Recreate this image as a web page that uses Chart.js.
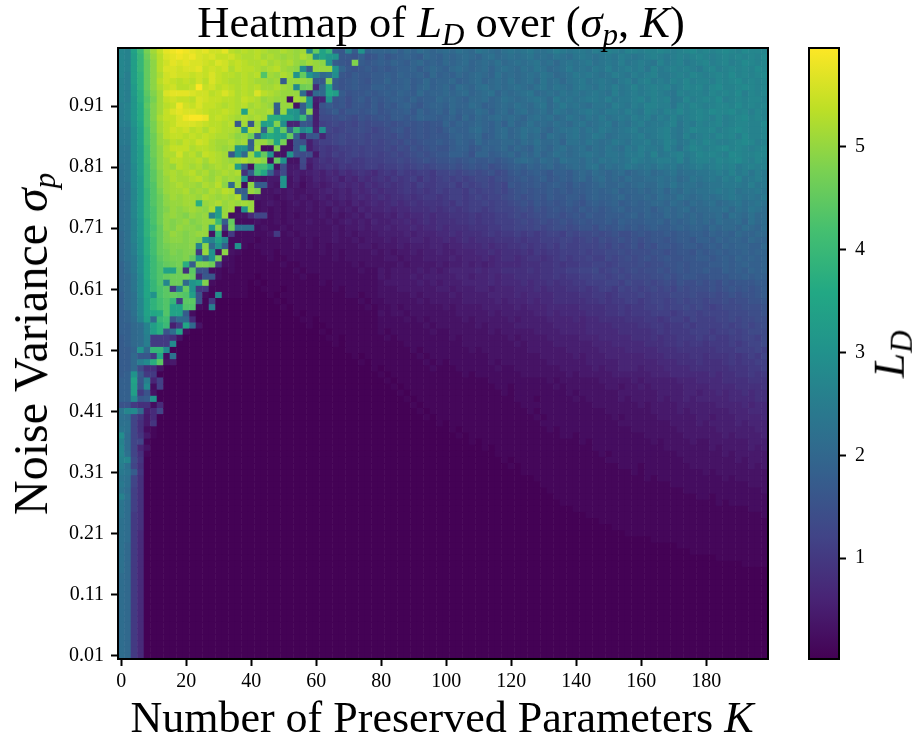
<!DOCTYPE html>
<html>
<head>
<meta charset="utf-8">
<script src="https://cdn.jsdelivr.net/npm/chart.js@4"></script>
<style>
  html, body { margin: 0; padding: 0; background: #fff; }
  #wrap { position: relative; width: 912px; height: 741px; overflow: hidden; font-family: "Liberation Serif", serif; color: #000; }
  canvas { position: absolute; top: 0; }
  .txt { position: absolute; white-space: nowrap; font-size: 44.5px; line-height: 1; }
  .txt i { font-style: italic; }
  .txt sub { font-size: 31px; font-style: italic; line-height: 0; vertical-align: -8px; }
</style>
</head>
<body>
<div id="wrap">
  <canvas id="heat" width="912" height="741" style="left:0"></canvas>
  <canvas id="bar" width="132" height="741" style="left:780px"></canvas>
  <div class="txt" id="titulo" style="left:441px;top:0px;transform:translateX(-50%)">Heatmap of <i>L</i><sub>D</sub> over (<i>σ</i><sub>p</sub>, <i>K</i>)</div>
  <div class="txt" id="labelx" style="left:442px;top:696px;font-size:44px;transform:translateX(-50%)">Number of Preserved Parameters <i>K</i></div>
  <div class="txt" id="labely" style="left:31px;top:344px;font-size:48px;transform:translate(-50%,-50%) rotate(-90deg)">Noise Variance <i>σ</i><sub>p</sub></div>
  <div class="txt" id="labelcb" style="left:889px;top:354px;transform:translate(-50%,-50%) rotate(-90deg)"><i>L</i><sub>D</sub></div>
</div>
<script>
// eixos
const kValues = Array.from({ length: 100 }, (_, i) => i * 2);
const sigmaValues = Array.from({ length: 100 }, (_, i) => (100 - i) / 100); // de cima para baixo
const kTicks = [0, 20, 40, 60, 80, 100, 120, 140, 160, 180];
const sigmaTicks = [0.01, 0.11, 0.21, 0.31, 0.41, 0.51, 0.61, 0.71, 0.81, 0.91];
const barTicks = [1, 2, 3, 4, 5];
const barMin = 0.02;
const barMax = 5.96;

// valores, uma linha por sigma, um caractere por K (indice em niveis * 0.1)
const niveis = "0123456789abcdefghijklmnopqrstuvwxyzABCDEFGHIJKLMNOPQRSTUVWXYZ";
const linhas = [
"rqyELPSVWX WVUVTTVRQR QRQPPQPOPr JyDhgqhuij jjkikjlkjk lkmlknmlkm nmnommnpon oonpoqpoqq pqqrqpqrsq rqrsrqsrrr",
"rqxDKORUVW VWUTUSSTRQ QRPQPOPOQO tyvuggfifg ighijihkji kjklkjlmkl mlmnlmlnml nonmnonpon opqpopqpqr qpqrqrqrqs",
"rqxDJNRTVU VUUTSUTRSR QQRPQPQONP ONuhgfMhgh ihjihjkiji kjkljklkmk lmlmnlmkmn mnomnonpno ponqopqopq rpqrpqsrqr",
"rqxDJNRUUT UUVSTSTQSR RQPQRPONth OOOujgfghg hghiijhjkj iklkjkljlm lkmlnmklmo mnmonpnopo pnqopqpqpo qrpqrqrqsr",
"rpxCJNQTUT TSTSUSRRQR QRHPOQPuJu pkmtgfhggh hihjiijhki jikjklkjmk lklmlnmklm ononmnponp opqoopqprq pqrqsqrqrs",
"qpxCJNRTSR SRTRUSRQQR QPPOPhOOON ggMhfghgfh hjhijhikij jkijkljklk mklmknlmkm nomnonmopn pqopoqprpq qprqrsqrqr",
"qpwCJNQSTR RSXSTRSRQR QRPPQPOsKL 7kzhfghggi ihiijhjkij kilkjlmklk lmlkmnlnml nonmonpnoq opqpqoprqr prsqqrsrqr",
"qpwBIMPUVV VUTTRSUSQR QURQPOOOl6 kkzxhfgghg hihjihkijj kjkljklmjl klmnklmlnm nmnonmpnop opqponqpqq prqrqsprqr",
"qpvBHLPSTS SRUTSSRRQS RQOPOO2POu 56ufgeghfh ghiihjhiik jkjikkljkm lklmnmkomn mnoonpnoop qoqpqnorpq rqspqrqrrq",
"pqvAIMPRSW TSUSSRQRQR PQPOiOO3hu 4fhfgeggfh fhgijhgijj ikjjlkijkl kmlkmnkmom nmlnnmponp oqqppnqprq pqrrqsqrqr",
"pqvAHMPSUV UUTSRRSRQy QPPQhOvuiM 5efheggfgh fghhigjhij hkijjlkikl jlmklmknml mnonmoonpo nqpoqprpqr qsrrsqrprq",
"pqvAHMQSSU WXXWRSRQPQ PQPBByyuEi 5ddefedfef gfhhghjiih ijhkikjklk lkjlmlmkln mlnmomnonp opnpoqopqr qprpqrsqrq",
"ppuzHLPRSU UUTSRRQRgP gOxyMt66gf 5bcdcdcede efefgfgfgg jhjijkjiki ljkmklkmlk mnlmnolnmo pnoopqnpoq pqrpqrrqqs",
"ootyGLPRTS TRSQSRQQPu QPiJyJkErv 6tcbcddedc defgefgfgf hjiikljikl jkmlmkjlmm nlnmonmnop noopqonprq qrpqrsrqqr",
"ootyGKORSS RSRSRQQPNO KixAywJi6f g6bcdcddcd dedfefgfgg gijijkhikl jkmkljmlkm nlmonlmnno pnopqonqop qprqrpsqqr",
"ootyGKOPRQ SRTSQPPQOP hOOLyL3fe5 9bbcdccdcd cdedfefggh ghjihkijjk kjlkmkkljm mlnmlmonmo opnoqpnoqp rqppqrsrpq",
"nntxFKNQSS SQRRQPOPuu iP22M33fs5 8a9abbcbcc cdcedfefgf fhiighjijk ikjilkjlmk lmkmlnmlon poonqomprq pqrsqrqpqr",
"nntxFKNQQT QRPSRQPguk OzJu33ufde 4a9babcbcc bcdcdefefg giihfjjhij kikjljkmlk lmnmlnnmoo pnqnopqopr qrqpsrqqrr",
"nntxFJNPRR QQRPRQPOPQ OPN2Ju33d5 7989abaabb bccdcdefef fgfghgghgh iklkjlkjml lkmlnmnmnp onoppoqnpq qprqrsqprq",
"mnsxEJNPOR QPQOPQPQxi 3FFz3d44c4 7898a9aabb abbcbcdcde efefgfgefg hihjijkijk lkmnkmlmon mnmonomnop opqpqopqpq",
"mnsxEIMPQP QRPQOPQPQ8 hEzi7d4545 6576878987 9a9baabbac cdcdedefde ghghihgiih jkjlkjkljk lmklmnlmmn nopoqopnpo",
"mnswEIMOQP PQRPOQOPOu 34344u3534 6567576878 98a9ab9bab cbcbcddcee fghghighih jkikljkjlk kllmlmklnm nonpoqnopo",
"mmswEHMOPQ PPOQPRNkO2 Nhh43u3424 5456767687 8989a9baab bcacbcdcdc gfgghghihg ihijkjjkjk lkkmlnlmml mnnooonpno",
"lmrwDHLOPP QOPOQPRQhh OM33434334 4565657678 7889a9a9ab abbacbccdc efgfgghghg hhijijkijj kjkljlkmlm mnonomnnon",
"lmrwDHKNPO PPOQPOPOQk 2433234343 4545656767 8788989aa9 abbabcbccd efefgfhggh hgijiijkij jkjlkkmlkl mlmnonmnmo",
"lmrwDHKNOO PPBOPQOPOP O234323434 3454546567 6787898999 a9babbcbcc defegfgfgh gfhihijhij ijkkjlkjlk lmklmnlmnm",
"lmrwDGKMON OPONQxOP2u O232323334 3435454656 6767788898 9a9abbabcc cdedfefgfg fhghghijhi ijhjkjkljk kllmkmlnml",
"lmrwDGKNON MONOpxO233 7cc2323233 3434345465 5657677878 8999a9aabb cdcdeeffef gfhgghhhij hjiikjkjkj kkljmlkmkl",
"lmqvCGKNMN OMNOOEhJ22 2322323334 3343454546 5566767878 8899a9aabb bcdcdedefe fgfgghgihh hiijhjijkj kjlkkljmkl",
"lmqvCFJNMO NNMOwNaKmm m232232333 3334344545 5656676778 7888999aab bcccdcdeed effegfghgh ghihhijijj ikjkkjlkjl",
"kmqvCGJMON MNOO3C2a22 2223a23233 3334343444 5555656667 7878889a9a abababccbd cddedefeef gfgghghhii hjijikjjkk",
"kmquBFJMNN MNMuqyr222 2122222323 2334334344 4545566566 7678788899 9a9aabbbcc bcdcedefef efggfghhgi ihjijjikjj",
"kmpuBFJLMM MNqNkui2u2 1222222323 2323333443 4445455566 5667778788 99a9aabacb bcccdcedef dfeggfghhg hihjijjiik",
"kmpuBFJKML MMaOu3N321 1122122222 2323233334 3434454556 5566677878 8898a9aabb bcbccddede eeffefggfh ghihiijijj",
"kmotAEIKLL MJukuL3211 1112112222 2223233333 3443444555 5656667678 8789989aba bbcbbdcded efefgffggh hghihjijij",
"jlotAEHJKL BhMMKa2211 1111121122 2222223233 3334344445 4556565677 7788899a9a abbccbcddd edeeffgfgg ghhihijiij",
"jlotAEHyyK 8Iff221211 1111111212 2222222322 4344445454 5666676778 8889899aab bccdbcdcde deefefgfgg hggihihjij",
"jknsAEHJKK LJ6gg21111 1011111121 1222222222 4344454555 5566566767 7888899a9a abbccbcdcd ddeefefggf fggghhihii",
"jknszDHrKK kuxM211111 0101111111 1212222222 3444445454 5556666767 7787889899 aabbbccbdc cdcdedfeef efegfggghh",
"jknszDGIaq Juaa111111 0011101111 1112122222 3334444445 5455566566 6777878889 9a9abbacbc bcdcdcedee efefgfgfgh",
"ikmszuGIJI Hxf21s1111 0001011111 1111122122 3333343444 4545555666 6767777888 899aa9abbb cbcccddded dedefeffgh",
"ikmryCFHDa IIf1a00000 0000101111 1111111212 2333334344 4445555565 6667677888 8899a9aabb abccbcdcdd cddedeeffg",
"ikmryCFHyy HH21p00000 0000010111 1111111121 2232333333 4344445555 5656667777 7888899a9a abbcbccdcd cbcdddeeef",
"ijmryzAHyy h200000000 0000000101 1111111111 3233233333 3344444545 5555667677 7788899a9a aabbbabccb ccccdddeef",
"ijlqxkDFfk k700000000 0000000011 0111111111 2222323233 3334344444 5455556666 7677888899 9aa9abbacb bbccdcddee",
"iiklqxBE5a zk30000000 0000000001 0011111111 2222222323 3333343444 4555555666 6677778888 99aa9aabab bbbcbcdcde",
"iiklqxBfly 2000000000 0000000000 0101111111 2122222232 2333333434 4444555566 6677777888 889a9aaabb babbcbcddd",
"hiklpaaa83 0000000000 0000000000 0011011111 1212222222 2323333333 4344445555 5666777778 889899aaab abaabbccbd",
"hiklpaaas0 0000000000 0000000000 0001011111 1111222222 2223333333 3434444555 5556667777 788899a9aa 9aaababccd",
"hhjukDDs00 0000000000 0000000000 0000011111 1111121222 2222323333 3334444445 5555666677 7778889999 99aaabbbcb",
"hhkggaz2m0 0000000000 0000000000 0000001011 1111112122 2222222333 3333344444 5455566666 6777888899 8999a9abac",
"hhkpsBI340 0000000000 0000000000 0000000101 1111111212 1222222323 3333334444 4455555666 6667778889 8889a9aabb",
"hhkd883000 0000000000 0000000000 0000000001 0111111121 1122222232 2333333344 4445455666 5666777788 8888999aab",
"hiuhaa0000 0000000000 0000000000 0000000000 1011111111 1112122222 2233333334 3444445555 5566677777 7878899a9a",
"iiygp6b000 0000000000 0000000000 0000000000 0101111111 1111111222 2222223233 3333444445 4555556667 7778888999",
"iixfs2b000 0000000000 0000000000 0000000000 0010111111 1111111122 1222222323 3333344344 5455555666 6777788889",
"iixaf30000 0000000000 0000000000 0000000000 0001011111 1111111112 1222222223 2333333444 4445555665 6676778788",
"iisghu0000 0000000000 0000000000 0000000000 0000101111 1111111111 1222122222 3233333434 4445455656 6666777788",
"ffa8827000 0000000000 0000000000 0000000000 0000010111 1111111111 1122222222 2223333333 4344445555 5566667677",
"nrsk57c000 0000000000 0000000000 0000000000 0000001011 1111111111 1112122222 2222233333 3344445455 5555666777",
"mlc9470000 0000000000 0000000000 0000000000 0000000101 1111111111 1111212222 2222223233 3334444445 5455566667",
"mmc8490000 0000000000 0000000000 0000000000 0000000001 0111111111 1111122222 2222222333 3333344445 4555565666",
"nmc8210000 0000000000 0000000000 0000000000 0000000000 0101111111 1111112122 2222222223 3333334444 4455555566",
"tlc9410000 0000000000 0000000000 0000000000 0000000000 0010111111 1111111122 1222222222 2333333444 4445455556",
"qlcc100000 0000000000 0000000000 0000000000 0000000000 0000101111 1111111111 1212222222 2232333343 3444444555",
"rlc6300000 0000000000 0000000000 0000000000 0000000000 0000001011 1111111111 1112222222 2222333333 3434444545",
"rmc8100000 0000000000 0000000000 0000000000 0000000000 0000000011 1111111111 1111212222 2222223333 3334344444",
"qrd9000000 0000000000 0000000000 0000000000 0000000000 0000000001 0111111111 1111122222 2222222333 3333343444",
"pmc8000000 0000000000 0000000000 0000000000 0000000000 0000000000 1011111111 1111111222 1222222233 3333333434",
"onh9000000 0000000000 0000000000 0000000000 0000000000 0000000000 0011111111 1111111112 1222222222 3233333333",
"nmc8000000 0000000000 0000000000 0000000000 0000000000 0000000000 0000111111 1111111111 1212222222 2223233333",
"omc8000000 0000000000 0000000000 0000000000 0000000000 0000000000 0000011111 1111111111 1111122222 2222222333",
"nlb8000000 0000000000 0000000000 0000000000 0000000000 0000000000 0000001111 1111111111 1111111222 2222222223",
"qmb8000000 0000000000 0000000000 0000000000 0000000000 0000000000 0000000111 1111111111 1111111112 2122222222",
"nlb8000000 0000000000 0000000000 0000000000 0000000000 0000000000 0000000011 1111111111 1111111111 1121222222",
"nlb8000000 0000000000 0000000000 0000000000 0000000000 0000000000 0000000000 1111111111 1111111111 1111111222",
"nla8000000 0000000000 0000000000 0000000000 0000000000 0000000000 0000000000 0011111111 1111111111 1111111112",
"mla8000000 0000000000 0000000000 0000000000 0000000000 0000000000 0000000000 0000111111 1111111111 1111111111",
"mla8000000 0000000000 0000000000 0000000000 0000000000 0000000000 0000000000 0000001111 1111111111 1111111111",
"mla7000000 0000000000 0000000000 0000000000 0000000000 0000000000 0000000000 0000000011 1111111111 1111111111",
"mla7000000 0000000000 0000000000 0000000000 0000000000 0000000000 0000000000 0000000000 0011111111 1111111111",
"mka7000000 0000000000 0000000000 0000000000 0000000000 0000000000 0000000000 0000000000 0000001111 1111111111",
"mka7000000 0000000000 0000000000 0000000000 0000000000 0000000000 0000000000 0000000000 0000000011 1111111111",
"mka7000000 0000000000 0000000000 0000000000 0000000000 0000000000 0000000000 0000000000 0000000000 0011111111",
"mka7000000 0000000000 0000000000 0000000000 0000000000 0000000000 0000000000 0000000000 0000000000 0000001111",
"mka7000000 0000000000 0000000000 0000000000 0000000000 0000000000 0000000000 0000000000 0000000000 0000000000",
"lka7000000 0000000000 0000000000 0000000000 0000000000 0000000000 0000000000 0000000000 0000000000 0000000000",
"lka7000000 0000000000 0000000000 0000000000 0000000000 0000000000 0000000000 0000000000 0000000000 0000000000",
"lka7000000 0000000000 0000000000 0000000000 0000000000 0000000000 0000000000 0000000000 0000000000 0000000000",
"lka7000000 0000000000 0000000000 0000000000 0000000000 0000000000 0000000000 0000000000 0000000000 0000000000",
"lka7000000 0000000000 0000000000 0000000000 0000000000 0000000000 0000000000 0000000000 0000000000 0000000000",
"lka7000000 0000000000 0000000000 0000000000 0000000000 0000000000 0000000000 0000000000 0000000000 0000000000",
"lka7000000 0000000000 0000000000 0000000000 0000000000 0000000000 0000000000 0000000000 0000000000 0000000000",
"lka7000000 0000000000 0000000000 0000000000 0000000000 0000000000 0000000000 0000000000 0000000000 0000000000",
"lka7000000 0000000000 0000000000 0000000000 0000000000 0000000000 0000000000 0000000000 0000000000 0000000000",
"lka7000000 0000000000 0000000000 0000000000 0000000000 0000000000 0000000000 0000000000 0000000000 0000000000",
"lka7000000 0000000000 0000000000 0000000000 0000000000 0000000000 0000000000 0000000000 0000000000 0000000000",
"lka7000000 0000000000 0000000000 0000000000 0000000000 0000000000 0000000000 0000000000 0000000000 0000000000",
"lka7000000 0000000000 0000000000 0000000000 0000000000 0000000000 0000000000 0000000000 0000000000 0000000000",
"lka7000000 0000000000 0000000000 0000000000 0000000000 0000000000 0000000000 0000000000 0000000000 0000000000",
"lka7000000 0000000000 0000000000 0000000000 0000000000 0000000000 0000000000 0000000000 0000000000 0000000000"
];

// viridis
const viridis = ["#440154", "#482475", "#414487", "#355f8d", "#2a788e", "#21918c", "#22a884", "#44bf70", "#7ad151", "#bddf26", "#fde725"];

function hexParaRgb(hex) {
  return [1, 3, 5].map(i => parseInt(hex.slice(i, i + 2), 16));
}

function corDoValor(v) {
  const t = Math.min(1, Math.max(0, (v - barMin) / (barMax - barMin))) * (viridis.length - 1);
  const i = Math.min(viridis.length - 2, Math.floor(t));
  const a = hexParaRgb(viridis[i]);
  const b = hexParaRgb(viridis[i + 1]);
  const c = a.map((p, j) => Math.round(p + (b[j] - p) * (t - i)));
  return `rgb(${c[0]},${c[1]},${c[2]})`;
}

const pontos = [];
const cores = [];
linhas.forEach((linha, r) => {
  const celulas = linha.replace(/ /g, "");
  for (let c = 0; c < celulas.length; c++) {
    pontos.push({ x: kValues[c], y: sigmaValues[r] });
    cores.push(corDoValor(niveis.indexOf(celulas[c]) * 0.1 + 0.03));
  }
});

const fonteTicks = { family: "Liberation Serif", size: 20 };

// moldura do grafico (spines)
const moldura = {
  id: "moldura",
  afterDraw(chart) {
    const { ctx, chartArea: a } = chart;
    ctx.save();
    ctx.strokeStyle = "#000";
    ctx.lineWidth = 2;
    ctx.strokeRect(a.left, a.top, a.right - a.left, a.bottom - a.top);
    ctx.restore();
  }
};

function eixoBase(ticksFixos, formato, recuo) {
  return {
    type: "linear",
    grid: { drawOnChartArea: false, drawTicks: true, tickLength: 7, tickWidth: 2, tickColor: "#000" },
    border: { color: "#000", width: 2 },
    afterBuildTicks: scale => { scale.ticks = ticksFixos.map(v => ({ value: v })); },
    ticks: { color: "#000", font: fonteTicks, maxRotation: 0, autoSkip: false, padding: recuo, callback: formato }
  };
}

new Chart(document.getElementById("heat"), {
  type: "scatter",
  data: {
    datasets: [{
      label: "L_D",
      data: pontos,
      pointStyle: "rect",
      pointRadius: 5,
      pointHoverRadius: 5,
      pointBorderWidth: 0,
      backgroundColor: cores,
      borderColor: cores
    }]
  },
  options: {
    responsive: false,
    animation: false,
    layout: { padding: { left: 0, top: 48, right: 144, bottom: 0 } },
    plugins: { legend: { display: false }, tooltip: { enabled: false } },
    scales: {
      x: Object.assign(eixoBase(kTicks, v => String(v), 4), {
        min: -1, max: 199,
        afterFit: scale => { scale.height = 82; }
      }),
      y: Object.assign(eixoBase(sigmaTicks, v => v.toFixed(2), 7), {
        min: 0.005, max: 1.005,
        afterFit: scale => { scale.width = 118; }
      })
    }
  },
  plugins: [moldura]
});

new Chart(document.getElementById("bar"), {
  type: "bar",
  data: {
    labels: ["L_D"],
    datasets: [{
      data: [[barMin, barMax]],
      barPercentage: 1,
      categoryPercentage: 1,
      backgroundColor: ctx => {
        const a = ctx.chart.chartArea;
        if (!a) return viridis[0];
        const g = ctx.chart.ctx.createLinearGradient(0, a.bottom, 0, a.top);
        viridis.forEach((c, i) => g.addColorStop(i / (viridis.length - 1), c));
        return g;
      }
    }]
  },
  options: {
    responsive: false,
    animation: false,
    layout: { padding: { left: 29, top: 48, right: 0, bottom: 82 } },
    plugins: { legend: { display: false }, tooltip: { enabled: false } },
    scales: {
      x: { display: false },
      y: Object.assign(eixoBase(barTicks, v => String(v), 9), {
        position: "right",
        min: barMin, max: barMax,
        afterFit: scale => { scale.width = 73; }
      })
    }
  },
  plugins: [moldura]
});
</script>
</body>
</html>
